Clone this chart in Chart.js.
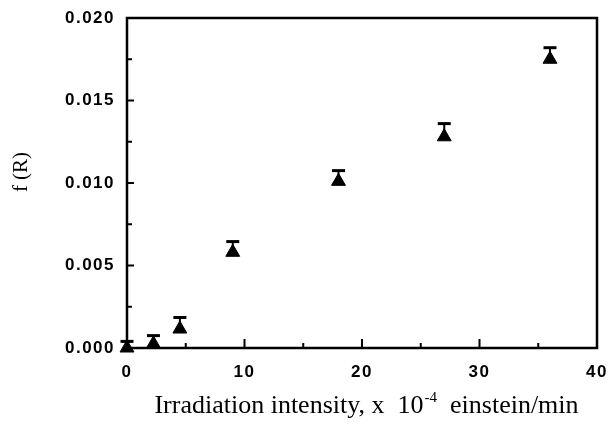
<!DOCTYPE html>
<html>
<head>
<meta charset="utf-8">
<script src="https://cdn.jsdelivr.net/npm/chart.js@4/dist/chart.umd.min.js"></script>
<style>
  html, body { margin: 0; padding: 0; background: #fff; }
  #wrap { width: 612px; height: 433px; }
</style>
</head>
<body>
<div id="wrap"><canvas id="c" width="612" height="433"></canvas></div>
<script>
// irradiation intensity (x 10^-4 einstein/min)
var intensity = [0, 2.25, 4.5, 9, 18, 27, 36];
// f(R)
var fR = [0.0000, 0.00025, 0.00115, 0.0058, 0.0101, 0.0128, 0.0175];
// upper error
var fRErr = [0.0004, 0.0005, 0.0007, 0.00065, 0.00065, 0.0008, 0.0007];

var xMajor = [0, 10, 20, 30, 40];
var xMinor = [5, 15, 25, 35];
var yMajor = [0, 0.005, 0.010, 0.015, 0.020];
var yMinor = [0.0025, 0.0075, 0.0125, 0.0175];

var yTitle = 'f (R)';
var xTitleMain = 'Irradiation intensity, x  10';
var xTitleSup = '-4';
var xTitleEnd = '  einstein/min';

(function () {
    var points = intensity.map(function (v, i) { return { x: v, y: fR[i] }; });

    var tickFont = { family: '"Liberation Sans", Arial, sans-serif', size: 17, weight: 'bold' };
    var serif = '"Liberation Serif", "Times New Roman", serif';

    // letter-spaced tick labels like the scanned figure
    var spacing = {
        id: 'spacing',
        beforeDraw: function (chart) { chart.ctx.letterSpacing = '1.5px'; },
        afterDraw: function (chart) { chart.ctx.letterSpacing = '0px'; }
    };

    var errBars = {
        id: 'errBars',
        beforeDatasetsDraw: function (chart) {
            var ctx = chart.ctx, xs = chart.scales.x, ys = chart.scales.y;
            ctx.save();
            ctx.strokeStyle = '#000';
            for (var i = 0; i < intensity.length; i++) {
                var px = xs.getPixelForValue(intensity[i]);
                var py = ys.getPixelForValue(fR[i]);
                var top = ys.getPixelForValue(fR[i] + fRErr[i]);
                ctx.lineWidth = 2;
                ctx.beginPath();
                ctx.moveTo(px, py);
                ctx.lineTo(px, top);
                ctx.stroke();
                ctx.lineWidth = 3;
                ctx.beginPath();
                ctx.moveTo(px - 6.5, top);
                ctx.lineTo(px + 6.5, top);
                ctx.stroke();
            }
            ctx.restore();
        }
    };

    var frame = {
        id: 'frame',
        afterDraw: function (chart) {
            var ctx = chart.ctx, a = chart.chartArea, xs = chart.scales.x, ys = chart.scales.y;
            ctx.save();
            ctx.strokeStyle = '#000';
            ctx.lineWidth = 2.5;
            ctx.strokeRect(a.left, a.top, a.right - a.left, a.bottom - a.top);
            ctx.lineWidth = 2;
            ctx.beginPath();
            xMajor.forEach(function (v) {
                var p = xs.getPixelForValue(v);
                ctx.moveTo(p, a.bottom); ctx.lineTo(p, a.bottom - 9);
            });
            xMinor.forEach(function (v) {
                var p = xs.getPixelForValue(v);
                ctx.moveTo(p, a.bottom); ctx.lineTo(p, a.bottom - 5);
            });
            yMajor.forEach(function (v) {
                var p = ys.getPixelForValue(v);
                ctx.moveTo(a.left, p); ctx.lineTo(a.left + 7, p);
            });
            yMinor.forEach(function (v) {
                var p = ys.getPixelForValue(v);
                ctx.moveTo(a.left, p); ctx.lineTo(a.left + 5, p);
            });
            ctx.stroke();

            ctx.letterSpacing = '0px';
            ctx.fillStyle = '#000';

            // y title, rotated
            ctx.save();
            ctx.translate(21, 172);
            ctx.rotate(-Math.PI / 2);
            ctx.textAlign = 'center';
            ctx.textBaseline = 'middle';
            ctx.font = '21px ' + serif;
            ctx.fillText(yTitle, 0, 0);
            ctx.restore();

            // x title with superscript exponent
            ctx.textBaseline = 'alphabetic';
            ctx.textAlign = 'left';
            var f1 = '26px ' + serif;
            var f2 = '15px ' + serif;
            ctx.font = f1;
            var w1 = ctx.measureText(xTitleMain).width;
            var w3 = ctx.measureText(xTitleEnd).width;
            ctx.font = f2;
            var w2 = ctx.measureText(xTitleSup).width;
            var cx = 366;
            var x0 = cx - (w1 + w2 + w3) / 2;
            var base = 413;
            ctx.font = f1;
            ctx.fillText(xTitleMain, x0, base);
            ctx.font = f2;
            ctx.fillText(xTitleSup, x0 + w1 + 1, base - 11);
            ctx.font = f1;
            ctx.fillText(xTitleEnd, x0 + w1 + w2 + 1, base);
            ctx.restore();
        }
    };

    new Chart(document.getElementById('c'), {
        type: 'scatter',
        data: {
            datasets: [{
                data: points,
                pointStyle: 'triangle',
                pointRadius: 8,
                pointHoverRadius: 8,
                backgroundColor: '#000',
                borderColor: '#000',
                borderWidth: 1,
                clip: false
            }]
        },
        options: {
            responsive: false,
            animation: false,
            events: [],
            layout: { padding: { left: 8, right: 15, top: 18, bottom: 0 } },
            plugins: { legend: { display: false }, tooltip: { enabled: false } },
            scales: {
                x: {
                    type: 'linear',
                    min: 0, max: 40,
                    afterBuildTicks: function (s) { s.ticks = xMajor.map(function (v) { return { value: v }; }); },
                    afterFit: function (s) { s.height = 85; s.paddingLeft = 0; s.paddingRight = 0; },
                    grid: { display: false, drawTicks: false },
                    border: { display: false },
                    ticks: { color: '#000', font: tickFont, padding: 14, maxRotation: 0,
                        callback: function (v) { return String(v); } }
                },
                y: {
                    type: 'linear',
                    min: 0, max: 0.02,
                    afterBuildTicks: function (s) { s.ticks = yMajor.map(function (v) { return { value: v }; }); },
                    afterFit: function (s) { s.width = 119; s.paddingTop = 0; s.paddingBottom = 0; },
                    grid: { display: false, drawTicks: false },
                    border: { display: false },
                    ticks: { color: '#000', font: tickFont, padding: 12,
                        callback: function (v) { return v.toFixed(3); } }
                }
            }
        },
        plugins: [spacing, errBars, frame]
    });
})();
</script>
</body>
</html>
